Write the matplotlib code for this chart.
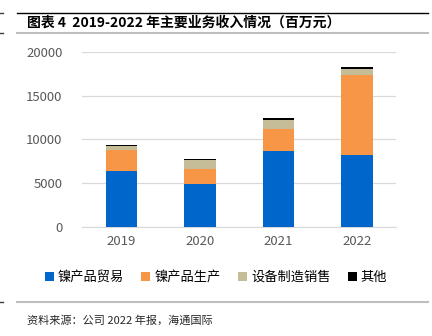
import matplotlib
matplotlib.use("Agg")
import matplotlib.pyplot as plt
from matplotlib.lines import Line2D

plt.rcParams['font.family'] = ['Noto Sans CJK SC', 'DejaVu Sans']

years = ["2019", "2020", "2021", "2022"]
trade = [6400, 4950, 8700, 8200]
production = [2420, 1620, 2490, 9130]
equipment = [450, 1070, 1030, 690]
other = [100, 110, 190, 230]
series_names = ["镍产品贸易", "镍产品生产", "设备制造销售", "其他"]
colors = ["#0066CC", "#F79646", "#C4BD97", "#000000"]
yticks = [0, 5000, 10000, 15000, 20000]

fig = plt.figure(figsize=(4.32, 3.36), dpi=100)
ax = fig.add_axes([0.19, 0.325, 0.727, 0.52])

x = range(len(years))
bottom = [0] * len(years)
for vals, name, c in zip([trade, production, equipment, other], series_names, colors):
    ax.bar(x, vals, width=0.4, bottom=bottom, color=c, label=name, zorder=3)
    bottom = [b + v for b, v in zip(bottom, vals)]

ax.set_xlim(-0.5, 3.5)
ax.set_ylim(0, 20000)
ax.set_xticks(list(x))
ax.set_xticklabels(years)
ax.set_yticks(yticks)
ax.set_yticklabels([str(t) for t in yticks])
ax.tick_params(axis='both', length=0, colors='#595959', labelsize=9.5)
ax.tick_params(axis='y', pad=14)
ax.tick_params(axis='x', pad=6)
ax.grid(axis='y', color='#D9D9D9', linewidth=0.9, zorder=0)
for s in ['top', 'right', 'left']:
    ax.spines[s].set_visible(False)
ax.spines['bottom'].set_color('#D9D9D9')

ax.legend(loc='center', bbox_to_anchor=(0.5, 0.174), bbox_transform=fig.transFigure,
          ncol=4, frameon=False, fontsize=9.5, handlelength=0.7, handleheight=0.7,
          handletextpad=0.3, columnspacing=1.3)

# header / footer rules
fig.add_artist(Line2D([17 / 432, 428 / 432], [1 - 13 / 336] * 2, color='#000000', lw=1.0))
fig.add_artist(Line2D([17 / 432, 428 / 432], [1 - 33 / 336] * 2, color='#BFBFBF', lw=1.5))
fig.add_artist(Line2D([0, 3 / 432], [1 - 13 / 336] * 2, color='#404040', lw=1.0))
fig.add_artist(Line2D([0, 3 / 432], [1 - 33 / 336] * 2, color='#404040', lw=1.0))
fig.add_artist(Line2D([17 / 432, 428 / 432], [1 - 302 / 336] * 2, color='#BFBFBF', lw=1.5))
fig.add_artist(Line2D([0, 3 / 432], [1 - 302 / 336] * 2, color='#404040', lw=1.0))

fig.text(27 / 432, 1 - 23 / 336, "图表 4  2019-2022 年主要业务收入情况（百万元）",
         fontsize=10, fontweight='bold', va='center', ha='left')
fig.text(27 / 432, 1 - 320 / 336, "资料来源：公司 2022 年报，海通国际",
         fontsize=8, va='center', ha='left', color='#262626')

fig.savefig("out.png", dpi=100)
